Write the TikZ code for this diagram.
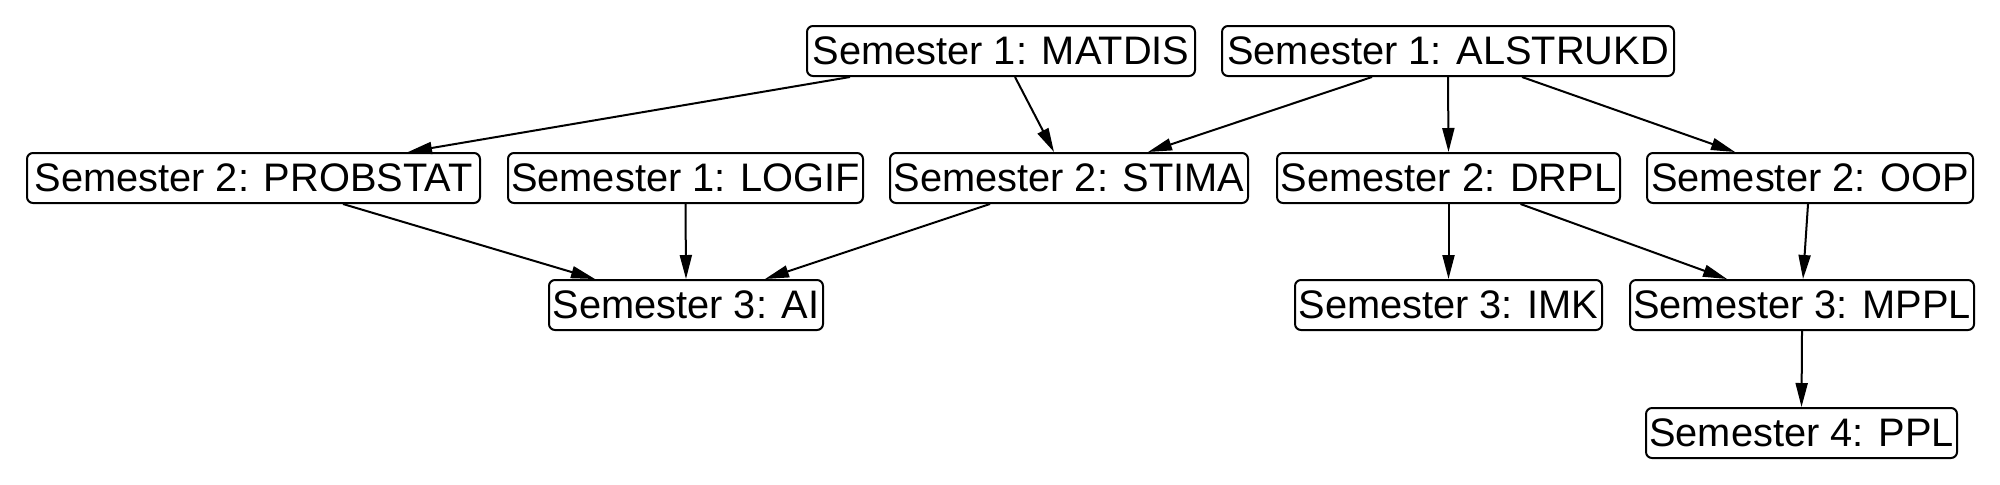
\documentclass[tikz,border=0pt]{standalone}
\usepackage{fontspec}
\setmainfont{Liberation Sans}
\usetikzlibrary{arrows.meta,calc}
\begin{document}
\begin{tikzpicture}[x=0.5pt,y=-0.5pt,
  box/.style={draw, line width=1pt, rounded corners=3pt, minimum height=25pt, inner sep=0pt, font=\fontsize{19.9}{24}\selectfont},
  edge/.style={draw, line width=1pt, -{Triangle[length=12pt,width=6pt]}}]
\useasboundingbox (0,0) rectangle (2000,484);
% row 1
\node[box, minimum width=194pt] (matdis) at (1001,51) {Semester 1: MATDIS};
\node[box, minimum width=226pt] (alstrukd) at (1448,51) {Semester 1: ALSTRUKD};
% row 2
\node[box, minimum width=226.5pt] (probstat) at (253.5,178) {Semester 2: PROBSTAT};
\node[box, minimum width=177.5pt] (logif) at (685.5,178) {Semester 1: LOGIF};
\node[box, minimum width=179pt] (stima) at (1069,178) {Semester 2: STIMA};
\node[box, minimum width=171.5pt] (drpl) at (1448.5,178) {Semester 2: DRPL};
\node[box, minimum width=163pt] (oop) at (1810,178) {Semester 2: OOP};
% row 3
\node[box, minimum width=137pt] (ai) at (686,305) {Semester 3: AI};
\node[box, minimum width=153.5pt] (imk) at (1448.5,305) {Semester 3: IMK};
\node[box, minimum width=172pt] (mppl) at (1802,305) {Semester 3: MPPL};
% row 4
\node[box, minimum width=155.5pt] (ppl) at (1801.5,433) {Semester 4: PPL};
% edges
\draw[edge] ($(matdis.south)+(-151,0)$) -- ($(probstat.north)+(154.5,0)$);
\draw[edge] ($(matdis.south)+(14,0)$) -- ($(stima.north)+(-15,0)$);
\draw[edge] ($(alstrukd.south)+(-76,0)$) -- ($(stima.north)+(79,0)$);
\draw[edge] (alstrukd.south) -- (drpl.north);
\draw[edge] ($(alstrukd.south)+(74,0)$) -- ($(oop.north)+(-75,0)$);
\draw[edge] ($(probstat.south)+(89.5,0)$) -- ($(ai.north)+(-91,0)$);
\draw[edge] (logif.south) -- (ai.north);
\draw[edge] ($(stima.south)+(-79,0)$) -- ($(ai.north)+(79,0)$);
\draw[edge] (drpl.south) -- (imk.north);
\draw[edge] ($(drpl.south)+(72,0)$) -- ($(mppl.north)+(-75,0)$);
\draw[edge] ($(oop.south)+(-2,0)$) -- ($(mppl.north)+(1,0)$);
\draw[edge] (mppl.south) -- (ppl.north);
\end{tikzpicture}
\end{document}
